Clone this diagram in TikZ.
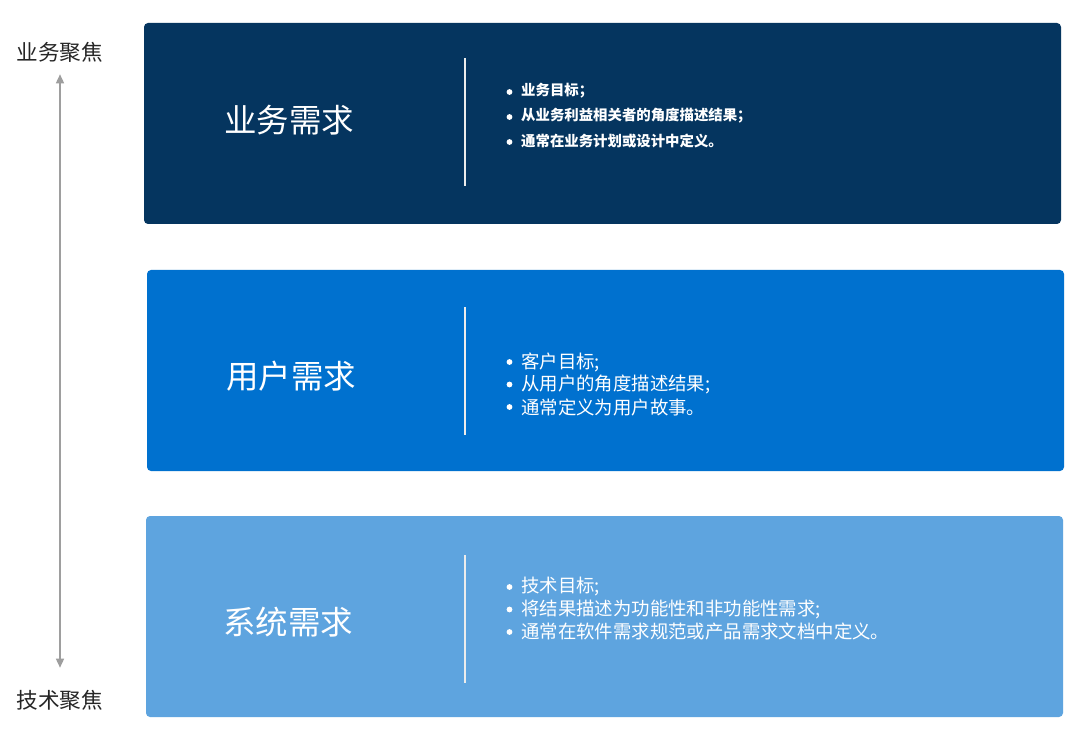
\documentclass[tikz,border=0pt]{standalone}
\usepackage{fontspec}
\setmainfont{Noto Sans CJK SC}
\usetikzlibrary{arrows.meta}
\definecolor{boxA}{HTML}{05355F}
\definecolor{boxB}{HTML}{0071CF}
\definecolor{boxC}{HTML}{5EA4DF}
\definecolor{arrowgray}{HTML}{9E9E9E}
\begin{document}
\begin{tikzpicture}[x=1pt,y=-1pt,
  panel/.style={rounded corners=4pt, draw=none},
  title/.style={text=white, font=\fontsize{32.5}{38}\selectfont, inner sep=0pt},
  divider/.style={draw=white!85!gray, line width=1.2pt},
  bulA/.style={text=white, anchor=west, inner sep=0pt, font=\bfseries\fontsize{14.4}{17}\selectfont},
  bulB/.style={text=white, anchor=west, inner sep=0pt, font=\fontsize{18.4}{21}\selectfont},
  dot/.style={fill=white},
  side/.style={text=black!85, font=\fontsize{21.6}{25}\selectfont, inner sep=0pt}]
\useasboundingbox (0,0) rectangle (1080,730);
\fill[white] (0,0) rectangle (1080,730);
% panels
\fill[panel, boxA] (144,23) rectangle (1061,224);
\fill[panel, boxB] (147,270) rectangle (1064,471);
\fill[panel, boxC] (146,516) rectangle (1063,717);
% titles
\node[title] (t1) at (289,120) {业务需求};
\node[title] (t2) at (291,376) {用户需求};
\node[title] (t3) at (288,622) {系统需求};
% dividers
\coordinate (d1a) at (465,58); \coordinate (d1b) at (465,186);
\coordinate (d2a) at (465,307); \coordinate (d2b) at (465,435);
\coordinate (d3a) at (465,555); \coordinate (d3b) at (465,683);
\draw[divider] (d1a) -- (d1b);
\draw[divider] (d2a) -- (d2b);
\draw[divider] (d3a) -- (d3b);
% bullets box 1
\node[bulA] (a1) at (521,91) {业务目标；};
\node[bulA] (a2) at (521,116) {从业务利益相关者的角度描述结果；};
\node[bulA] (a3) at (521,141) {通常在业务计划或设计中定义。};
\fill[dot] (509.5,92) circle (2.9pt);
\fill[dot] (509.5,117) circle (2.9pt);
\fill[dot] (509.5,142) circle (2.9pt);
% bullets box 2
\node[bulB] (b1) at (521,362) {客户目标;};
\node[bulB] (b2) at (521,384.5) {从用户的角度描述结果;};
\node[bulB] (b3) at (521,407) {通常定义为用户故事。};
\fill[dot] (509.5,362) circle (2.9pt);
\fill[dot] (509.5,384.5) circle (2.9pt);
\fill[dot] (509.5,407) circle (2.9pt);
% bullets box 3
\node[bulB] (c1) at (521,587) {技术目标;};
\node[bulB] (c2) at (521,609.5) {将结果描述为功能性和非功能性需求;};
\node[bulB] (c3) at (521,632) {通常在软件需求规范或产品需求文档中定义。};
\fill[dot] (509.5,587) circle (2.9pt);
\fill[dot] (509.5,609.5) circle (2.9pt);
\fill[dot] (509.5,632) circle (2.9pt);
% side labels and arrow
\node[side] (top) at (60,52) {业务聚焦};
\node[side] (bot) at (60,700) {技术聚焦};
\draw[arrowgray, line width=1.4pt, {Triangle[length=9pt,width=8pt]}-{Triangle[length=9pt,width=8pt]}]
  ([yshift=-12pt]top.south) -- ([yshift=22pt]bot.north);
\end{tikzpicture}
\end{document}
